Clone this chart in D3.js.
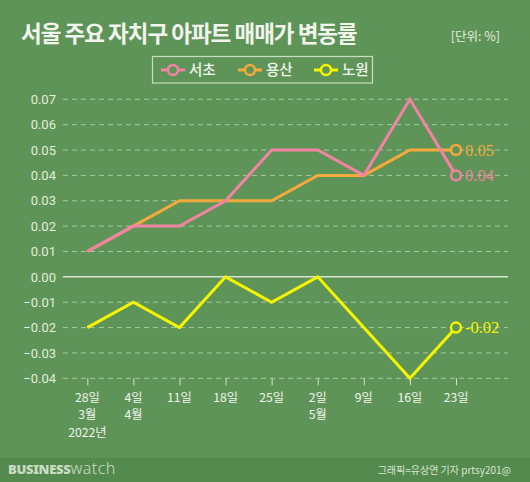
<!DOCTYPE html>
<html><head><meta charset="utf-8">
<script src="https://cdn.jsdelivr.net/npm/d3@7"></script>
<style>body{margin:0;background:#5f9458;}svg{display:block;font-family:"Noto Sans CJK KR","Noto Sans",sans-serif;}</style>
</head><body>
<svg id="c" width="530" height="482"></svg>
<script>
const categories = ["28일|3월|2022년","4일|4월","11일","18일","25일","2일|5월","9일","16일","23일"];
const seocho  = [0.01,0.02,0.02,0.03,0.05,0.05,0.04,0.07,0.04];
const yongsan = [0.01,0.02,0.03,0.03,0.03,0.04,0.04,0.05,0.05];
const nowon   = [-0.02,-0.01,-0.02,0.00,-0.01,0.00,-0.02,-0.04,-0.02];
const yTicks  = [0.07,0.06,0.05,0.04,0.03,0.02,0.01,0.00,-0.01,-0.02,-0.03,-0.04];
const seriesNames = ["서초","용산","노원"];
const colors = ["#f283a4","#f4a93c","#f5f500"];

const svg = d3.select("#c");
svg.append("rect").attr("width",530).attr("height",482).attr("fill","#5f9458");
svg.append("rect").attr("y",458).attr("width",530).attr("height",24).attr("fill","#558a4f");

const x = d3.scalePoint().domain(categories).range([87.3,456]);
const y = d3.scaleLinear().domain([-0.04,0.07]).range([378.3,99.3]);

// title
svg.append("text").attr("x",21).attr("y",42).attr("fill","#f2f5ee")
  .attr("font-size",22.5).attr("font-weight",700).attr("letter-spacing",-1).text("서울 주요 자치구 아파트 매매가 변동률");
svg.append("text").attr("x",500).attr("y",41).attr("text-anchor","end").attr("fill","#e4eede")
  .attr("font-size",12.5).text("[단위: %]");

// legend
svg.append("rect").attr("x",152.5).attr("y",56.5).attr("width",220).attr("height",26.5)
  .attr("fill","none").attr("stroke","#c9dcc0").attr("stroke-width",1.2);
const lx = [173,250,326];
seriesNames.forEach((n,i)=>{
  const g = svg.append("g");
  g.append("line").attr("x1",lx[i]-12).attr("x2",lx[i]+12).attr("y1",70).attr("y2",70)
    .attr("stroke",colors[i]).attr("stroke-width",3);
  g.append("circle").attr("cx",lx[i]).attr("cy",70).attr("r",5).attr("fill","#5f9458")
    .attr("stroke",colors[i]).attr("stroke-width",2.5);
  g.append("text").attr("x",lx[i]+16).attr("y",75).attr("fill","#f2f5ee").attr("font-size",14.5)
    .attr("font-weight",500).text(n);
});

// grid
yTicks.forEach(t=>{
  svg.append("line").attr("x1",63).attr("x2",508).attr("y1",y(t)).attr("y2",y(t))
    .attr("stroke", t===0 ? "#d4e4cc" : "#a9c8a0").attr("stroke-width", t===0?1.5:1)
    .attr("stroke-dasharray", t===0 ? null : "5,4");
});

// y axis labels
const yAxis = d3.axisLeft(y).tickValues(yTicks).tickSize(0).tickPadding(0)
  .tickFormat(d=>d3.format(".2f")(d).replace("-","−"));
const ya = svg.append("g").attr("transform","translate(56,0)").call(yAxis);
ya.select(".domain").remove();
ya.selectAll("text").attr("fill","#e2eddb").attr("font-size",13).attr("font-family","Roboto,'Noto Sans',sans-serif");

// x axis
const xAxis = d3.axisBottom(x).tickSize(7).tickFormat("");
const xa = svg.append("g").attr("transform","translate(0,378.3)").call(xAxis);
xa.select(".domain").remove();
xa.selectAll("line").attr("stroke","#d4e4cc").attr("stroke-width",1);
categories.forEach(c=>{
  c.split("|").forEach((p,i)=>{
    svg.append("text").attr("x",x(c)).attr("y",401.5 + i*17.8).attr("text-anchor","middle")
      .attr("fill","#f2f5ee").attr("font-size",12.2).text(p);
  });
});

// lines
const allSeries = [nowon, yongsan, seocho];
const allColors = [colors[2], colors[1], colors[0]];
const line = d3.line().x((d,i)=>x(categories[i])).y(d=>y(d));
allSeries.forEach((s,k)=>{
  svg.append("path").datum(s).attr("d",line).attr("fill","none")
    .attr("stroke",allColors[k]).attr("stroke-width",3).attr("stroke-linejoin","miter");
});
allSeries.forEach((s,k)=>{
  const last = s.length-1;
  svg.append("circle").attr("cx",x(categories[last])).attr("cy",y(s[last])).attr("r",5)
    .attr("fill","#5f9458").attr("stroke",allColors[k]).attr("stroke-width",2.5);
  svg.append("text").attr("x",x(categories[last])+9).attr("y",y(s[last])+5.5)
    .attr("fill",allColors[k]).attr("font-size",16.5)
    .attr("font-family","'Liberation Serif','DejaVu Serif',serif")
    .text(d3.format(".2f")(s[last]).replace("−","-"));
});

// footer
const f = svg.append("text").attr("x",8).attr("y",474).attr("fill","#c9dcc2").attr("font-size",13);
f.append("tspan").attr("font-weight",900).attr("font-family","'Noto Sans',sans-serif").attr("letter-spacing",-0.3).text("BUSINESS");
f.append("tspan").attr("font-weight",300).attr("font-family","'Noto Sans',sans-serif").attr("font-size",16).attr("letter-spacing",0.5).text("watch");
svg.append("text").attr("x",511).attr("y",474).attr("text-anchor","end").attr("fill","#d8e6d0")
  .attr("font-size",10).text("그래픽=유상연 기자 prtsy201@");
</script>
</body></html>
